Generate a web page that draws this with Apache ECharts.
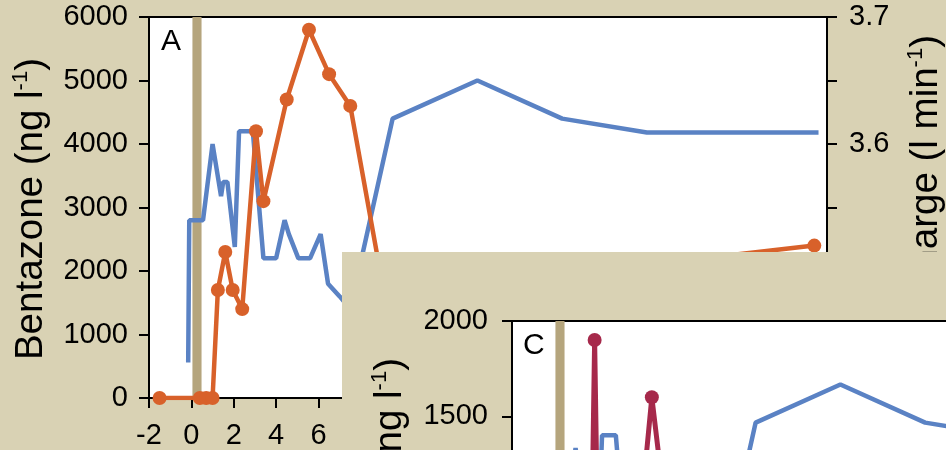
<!DOCTYPE html>
<html>
<head>
<meta charset="utf-8">
<script src="https://cdn.jsdelivr.net/npm/echarts@6/dist/echarts.min.js"></script>
<style>
html,body{margin:0;padding:0;width:946px;height:450px;overflow:hidden;background:#d9d2b4;position:relative}
#a{position:absolute;left:0;top:0;width:946px;height:450px}
#c{position:absolute;left:342px;top:252px;width:1000px;height:800px}
</style>
</head>
<body>
<div id="a"></div>
<div id="c"></div>
<script>
// ---- data (days since application) ----
const dischargeX = [-0.15, -0.1, 0.55, 1.0, 1.4, 1.5, 1.7, 2.05, 2.25, 2.9, 3.4, 4.0, 4.4, 4.6, 5.05, 5.6, 6.1, 6.45, 7.0, 7.5, 9.5, 13.5, 17.5, 21.5, 29.6];
const dischargeY = [3.428, 3.54, 3.54, 3.6, 3.559, 3.57, 3.57, 3.519, 3.61, 3.61, 3.51, 3.51, 3.54, 3.529, 3.51, 3.51, 3.529, 3.49, 3.48, 3.47, 3.62, 3.65, 3.62, 3.609, 3.609];

const bentazoneX = [-1.5, 0.4, 0.7, 1.0, 1.25, 1.6, 1.95, 2.4, 3.05, 3.4, 4.5, 5.55, 6.5, 7.5, 9.5, 13.5, 17.5, 21.5, 29.4];
const bentazoneY = [0, 0, 0, 0, 1700, 2300, 1700, 1400, 4200, 3100, 4700, 5800, 5100, 4600, 900, 1300, 1700, 2100, 2400];

const panelCX = [-1.5, 0.4, 0.7, 1.0, 1.65, 1.9, 2.15, 3.4, 4.6, 6.2, 7.5, 9.5, 13.5, 17.5, 21.5, 29.4];
const panelCY = [0, 0, 0, 0, 50, 1900, 100, 200, 1600, 100, 50, 20, 0, 0, 0, 0];

const applicationBand = [0.05, 0.48];

const xTicks = {min: -2, max: 30, interval: 2};
const leftTicksA = {min: 0, max: 6000, interval: 1000};
const leftTicksC = {min: 0, max: 2000, interval: 500};
const rightTicks = {min: 3.4, max: 3.7, interval: 0.05};

const labelA = 'Bentazone';
const labelC = 'Bentazone';
const labelRight = 'Discharge';
const unitConc = 'ng l';
const unitFlow = 'l min';

// ---- styles ----
const FONT = "'Liberation Sans', Arial, Helvetica, sans-serif";
const BLUE = '#5a82c4';
const ORANGE = '#d8612a';
const CRIMSON = '#a6294b';
const BAND = '#b5a57d';
const BG = '#d9d2b4';
const TICK_FS = 29;
const NAME_FS = 38.5;

const zip = (xs, ys) => xs.map((x, i) => [x, ys[i]]);

function richName(main, unit) {
  return '{n|' + main + ' (' + unit + '}{s|-1}{n|)}';
}
const richStyle = {
  n: {fontSize: NAME_FS, fontFamily: FONT, fill: '#000', lineHeight: 42},
  s: {fontSize: 22, fontFamily: FONT, fill: '#000', lineHeight: 26, verticalAlign: 'top'}
};

function axisCommon() {
  return {
    axisLine: {show: true, onZero: false, lineStyle: {color: '#000', width: 2}},
    axisTick: {show: true, inside: false, length: 10, lineStyle: {color: '#000', width: 2}},
    splitLine: {show: false},
    axisLabel: {color: '#000', fontSize: TICK_FS, fontFamily: FONT}
  };
}

function bandRender(params, api) {
  const p0 = api.coord([api.value(0), 0]);
  const p1 = api.coord([api.value(1), 0]);
  const cs = params.coordSys;
  return {type: 'rect', shape: {x: p0[0], y: cs.y, width: p1[0] - p0[0], height: cs.height}, style: {fill: BAND}};
}

function buildOption(cfg) {
  const xa = axisCommon();
  Object.assign(xa, {type: 'value', min: xTicks.min, max: xTicks.max, interval: xTicks.interval});
  xa.axisLabel = Object.assign({}, xa.axisLabel, {margin: 23, formatter: v => String(v)});

  const yl = axisCommon();
  Object.assign(yl, {type: 'value', position: 'left', min: cfg.left.min, max: cfg.left.max, interval: cfg.left.interval});
  yl.axisLabel = Object.assign({}, yl.axisLabel, {margin: cfg.leftMargin, formatter: v => String(v)});

  const yr = axisCommon();
  Object.assign(yr, {type: 'value', position: 'right', min: rightTicks.min, max: rightTicks.max, interval: rightTicks.interval});
  yr.axisLabel = Object.assign({}, yr.axisLabel, {margin: 22, formatter: v => {
    const t = v * 10;
    return Math.abs(t - Math.round(t)) < 1e-6 ? v.toFixed(1) : '';
  }});

  const series = [
    {
      type: 'custom', z: 1, silent: true, xAxisIndex: 0, yAxisIndex: 0,
      data: [applicationBand], encode: {x: [0, 1]}, renderItem: bandRender, clip: true
    },
    {
      type: 'line', yAxisIndex: 1, data: zip(dischargeX, dischargeY), z: 3,
      showSymbol: false, symbol: 'none', lineStyle: {color: BLUE, width: 4.5}, itemStyle: {color: BLUE}
    },
    {
      type: 'line', yAxisIndex: 0, data: cfg.conc, z: 4,
      symbol: 'circle', symbolSize: 14, showSymbol: true,
      lineStyle: {color: cfg.color, width: cfg.width}, itemStyle: {color: cfg.color}
    }
  ];

  return {
    animation: false,
    backgroundColor: BG,
    grid: {left: cfg.gridLeft, top: cfg.gridTop, width: 678, height: 381, show: true,
      backgroundColor: '#ffffff', borderColor: '#000', borderWidth: 2, containLabel: false, outerBoundsMode: 'none'},
    xAxis: xa,
    yAxis: [yl, yr],
    series: series,
    graphic: cfg.graphic
  };
}

const chartA = echarts.init(document.getElementById('a'), null, {renderer: 'canvas'});
chartA.setOption(buildOption({
  gridLeft: 149, gridTop: 17,
  left: leftTicksA, leftMargin: 21,
  conc: zip(bentazoneX, bentazoneY), color: ORANGE, width: 4.5,
  graphic: [
    {type: 'text', x: 161, y: 27, style: {text: 'A', fontSize: 30, fontFamily: FONT, fill: '#000', align: 'left', verticalAlign: 'top'}},
    {type: 'text', x: 31, y: 58, rotation: Math.PI / 2,
      style: {text: richName(labelA, unitConc), rich: richStyle, align: 'right', verticalAlign: 'middle', fontSize: NAME_FS, fontFamily: FONT, fill: '#000'}},
    {type: 'text', x: 926, y: 35, rotation: Math.PI / 2,
      style: {text: richName(labelRight, unitFlow), rich: richStyle, align: 'right', verticalAlign: 'middle', fontSize: NAME_FS, fontFamily: FONT, fill: '#000'}}
  ]
}));

const chartC = echarts.init(document.getElementById('c'), null, {renderer: 'canvas'});
chartC.setOption(buildOption({
  gridLeft: 170, gridTop: 69,
  left: leftTicksC, leftMargin: 24,
  conc: zip(panelCX, panelCY), color: CRIMSON, width: 5,
  graphic: [
    {type: 'text', x: 181, y: 79, style: {text: 'C', fontSize: 30, fontFamily: FONT, fill: '#000', align: 'left', verticalAlign: 'top'}},
    {type: 'text', x: 48, y: 106, rotation: Math.PI / 2,
      style: {text: richName(labelC, unitConc), rich: richStyle, align: 'right', verticalAlign: 'middle', fontSize: NAME_FS, fontFamily: FONT, fill: '#000'}}
  ]
}));
</script>
</body>
</html>
